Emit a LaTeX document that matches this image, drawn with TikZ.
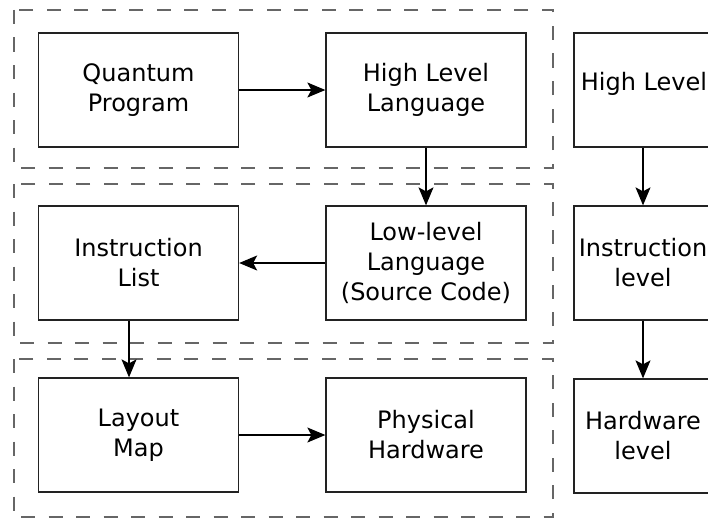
\documentclass[tikz,border=0pt]{standalone}
\usepackage{fontspec}
\setmainfont{DejaVu Sans}
\usetikzlibrary{arrows.meta,calc}
\definecolor{dashgray}{HTML}{666666}
\definecolor{boxline}{HTML}{222222}
\tikzset{
  box/.style={draw=boxline, line width=1.3pt, minimum width=200pt, minimum height=114pt, inner sep=0pt, align=center, font=\fontsize{24}{30}\selectfont},
  rbox/.style={box, minimum width=138pt},
  txt/.style={inner sep=0pt, align=center, font=\fontsize{24}{30}\selectfont},
  group/.style={draw=dashgray, line width=1.3pt, dash pattern=on 14pt off 13.5pt},
  arr/.style={draw=black, line width=1.3pt, -{Stealth[length=18pt, width=15pt, inset=4pt]}}
}
\begin{document}
\begin{tikzpicture}[x=1pt, y=-1pt]
\useasboundingbox (0,0) rectangle (708,519);
\clip (0,0) rectangle (708,519);
\fill[white] (0,0) rectangle (708,519);
% groups
\draw[group] (14,10) rectangle (553,168);
\draw[group] (14,184) rectangle (553,343);
\draw[group] (14,359) rectangle (553,517);
% left column boxes
\node[box] (qp) at (138.5,90) {Quantum\\Program};
\node[box] (hll) at (426,90) {High Level\\Language};
\node[box] (il) at (138.5,263) {Instruction\\List};
\node[box] (ll) at (426,263) {Low-level\\Language\\(Source Code)};
\node[box] (lm) at (138.5,435) {Layout\\Map};
\node[box] (ph) at (426,435) {Physical\\Hardware};
% right column
\node[rbox] (hl) at (643,90) {};
\node[txt] (hlt) at (644,84) {High Level};
\node[rbox] (inl) at (643,263) {Instruction\\level};
\node[rbox] (hw) at (643,436) {Hardware\\level};
% arrows
\draw[arr] (qp.east) -- (hll.west);
\draw[arr] (hll.south) -- (ll.north);
\draw[arr] (ll.west) -- (il.east);
\draw[arr] ([xshift=-9.5pt]il.south) -- ([xshift=-9.5pt]lm.north);
\draw[arr] (lm.east) -- (ph.west);
\draw[arr] (hl.south) -- (inl.north);
\draw[arr] (inl.south) -- (hw.north);
\end{tikzpicture}
\end{document}
